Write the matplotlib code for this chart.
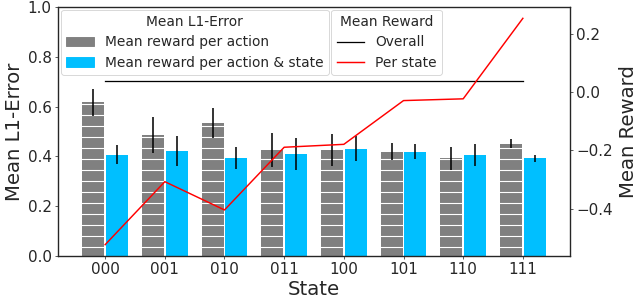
import numpy as np
import matplotlib
matplotlib.use("Agg")
import matplotlib.pyplot as plt
from matplotlib.patches import Patch

states = ["000", "001", "010", "011", "100", "101", "110", "111"]

# mean L1 error, reward per action (grey) and per action & state (blue)
err_action = [0.617, 0.486, 0.535, 0.426, 0.426, 0.419, 0.392, 0.450]
err_action_sd = [0.055, 0.072, 0.060, 0.067, 0.065, 0.035, 0.045, 0.018]
err_state = [0.406, 0.422, 0.394, 0.410, 0.430, 0.419, 0.406, 0.392]
err_state_sd = [0.038, 0.060, 0.045, 0.064, 0.050, 0.030, 0.045, 0.015]

# mean reward
reward_overall = 0.037
reward_per_state = [-0.523, -0.307, -0.404, -0.189, -0.179, -0.029, -0.023, 0.253]

text_col = "#262626"
plt.rcParams.update({
    "font.family": "DejaVu Sans",
    "text.color": text_col,
    "axes.labelcolor": text_col,
    "xtick.color": text_col,
    "ytick.color": text_col,
    "axes.edgecolor": text_col,
    "axes.linewidth": 1.3,
    "hatch.color": "white",
    "hatch.linewidth": 1.2,
})

dpi = 66
fig = plt.figure(figsize=(638 / dpi, 300 / dpi), dpi=dpi)
ax = fig.add_axes([58 / 638, 44 / 300, 512 / 638, 249 / 300])

x = np.arange(len(states))
w = 0.37
off = 0.2
err_kw = dict(elinewidth=1.7, ecolor="black", capsize=0)
ax.bar(x - off, err_action, w, yerr=err_action_sd, color="gray",
       edgecolor="white", linewidth=0, hatch="-", error_kw=err_kw)
ax.bar(x + off, err_state, w, yerr=err_state_sd, color="deepskyblue",
       linewidth=0, error_kw=err_kw)

ax.set_ylim(0, 1.0)
ax.set_xlim(-0.79, 7.79)
ax.set_xticks(x)
ax.set_xticklabels(states)
ax.tick_params(labelsize=16.5)
ax.set_xlabel("State", fontsize=21.5, labelpad=3)
ax.set_ylabel("Mean L1-Error", fontsize=21.5)

ax2 = ax.twinx()
l1, = ax2.plot(x, [reward_overall] * len(x), color="black", lw=1.4, label="Overall")
l2, = ax2.plot(x, reward_per_state, color="red", lw=1.6, label="Per state")
ax2.tick_params(labelsize=16.5)
ax2.set_ylabel("Mean Reward", fontsize=21.5, rotation=90, labelpad=6)

bar_handles = [Patch(color="gray", label="Mean reward per action"),
               Patch(color="deepskyblue", label="Mean reward per action & state")]
leg1 = ax2.legend(handles=bar_handles, title="Mean L1-Error", loc="upper left",
                  bbox_to_anchor=(0.0, 1.0), borderaxespad=0.2, fontsize=15,
                  title_fontsize=15, labelspacing=0.45)
ax2.add_artist(leg1)
ax2.legend(handles=[l1, l2], title="Mean Reward", loc="upper left",
           bbox_to_anchor=(0.528, 1.0), borderaxespad=0.2, fontsize=15,
           title_fontsize=15, labelspacing=0.45)

fig.savefig("out.png", dpi=dpi)
